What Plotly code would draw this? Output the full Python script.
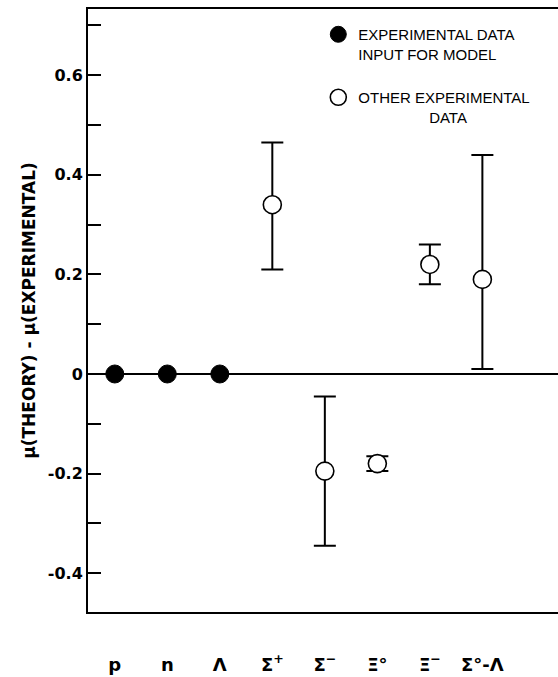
import plotly.graph_objects as go

# Baryon magnetic moments: difference between model prediction and measurement
categories = ["p", "n", "Λ", "Σ<sup>+</sup>", "Σ<sup>−</sup>", "Ξ°", "Ξ<sup>−</sup>", "Σ°-Λ"]

# Moments used as input to the model (difference is zero by construction)
input_names = ["p", "n", "Λ"]
input_diff = [0.0, 0.0, 0.0]

# Other measured moments: difference with asymmetric uncertainties
other_names = ["Σ<sup>+</sup>", "Σ<sup>−</sup>", "Ξ°", "Ξ<sup>−</sup>", "Σ°-Λ"]
other_diff = [0.34, -0.195, -0.18, 0.22, 0.19]
other_err_plus = [0.125, 0.15, 0.015, 0.04, 0.25]
other_err_minus = [0.13, 0.15, 0.015, 0.04, 0.18]

y_tick_vals = [-0.4, -0.3, -0.2, -0.1, 0.0, 0.1, 0.2, 0.3, 0.4, 0.5, 0.6, 0.7]
y_tick_text = ["-0.4", "", "-0.2", "", "0", "", "0.2", "", "0.4", "", "0.6", ""]

FONT = "DejaVu Sans"
NBSP = "\u00a0"

fig = go.Figure()

fig.add_trace(go.Scatter(
    x=other_names, y=other_diff, mode="markers",
    name="OTHER EXPERIMENTAL<br>" + NBSP * 17 + "DATA",
    legendgroup="other", legendrank=2,
    marker=dict(symbol="circle", size=18, color="white",
                line=dict(color="black", width=1.6)),
    error_y=dict(type="data", symmetric=False,
                 array=other_err_plus, arrayminus=other_err_minus,
                 color="black", thickness=2, width=11),
))

fig.add_trace(go.Scatter(
    x=input_names, y=input_diff, mode="markers",
    name="EXPERIMENTAL DATA<br>INPUT FOR MODEL",
    legendgroup="input", legendrank=1,
    marker=dict(symbol="circle", size=18, color="black",
                line=dict(color="black", width=1)),
))

fig.update_layout(
    width=558, height=677,
    margin=dict(l=88, r=0, t=9, b=65),
    paper_bgcolor="white", plot_bgcolor="white",
    font=dict(family=FONT, color="black"),
    showlegend=True,
    legend=dict(
        x=0.49, y=0.985, xanchor="left", yanchor="top",
        bgcolor="rgba(0,0,0,0)", borderwidth=0,
        font=dict(family="Liberation Sans", size=15, color="black"),
        traceorder="grouped", tracegroupgap=21, valign="top",
        itemsizing="trace",
    ),
    xaxis=dict(
        type="category", categoryorder="array", categoryarray=categories,
        range=[-0.51, 8.44],
        showline=True, linecolor="black", linewidth=2, mirror=True,
        showgrid=False, zeroline=False,
        ticks="outside", ticklen=35, tickcolor="rgba(0,0,0,0)",
        tickfont=dict(family=FONT, size=18, weight="bold"),
    ),
    yaxis=dict(
        range=[-0.478, 0.733],
        showline=True, linecolor="black", linewidth=2, mirror=False,
        showgrid=False,
        zeroline=True, zerolinecolor="black", zerolinewidth=2,
        tickmode="array", tickvals=y_tick_vals, ticktext=y_tick_text,
        ticks="inside", ticklen=13, tickwidth=2, tickcolor="black",
        tickfont=dict(family=FONT, size=16, weight="bold"),
        title=dict(text="μ(THEORY) - μ(EXPERIMENTAL)", standoff=8,
                   font=dict(family=FONT, size=17, weight="bold")),
    ),
)

fig.write_html("out.html")
